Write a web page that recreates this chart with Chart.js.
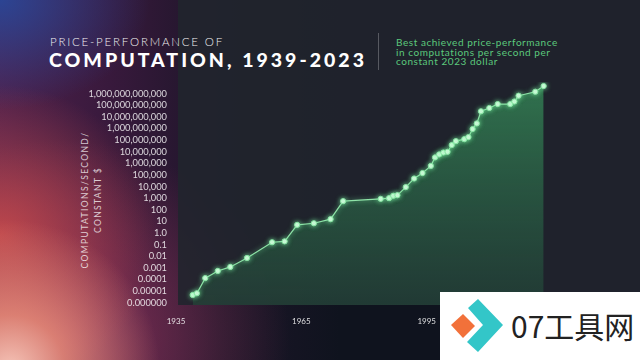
<!DOCTYPE html>
<html>
<head>
<meta charset="utf-8">
<script src="https://cdn.jsdelivr.net/npm/chart.js@4"></script>
<style>
  html, body { margin: 0; padding: 0; }
  body {
    width: 640px; height: 360px; overflow: hidden; position: relative;
    font-family: Lato, "Open Sans", sans-serif;
    background:
      radial-gradient(circle at 10px 370px, rgba(252,205,190,0.95) 0, rgba(240,150,125,0.75) 55px, rgba(210,90,100,0) 150px),
      radial-gradient(ellipse 160px 150px at 0px 235px, rgba(205,76,74,0.85), rgba(190,60,70,0)),
      radial-gradient(ellipse 150px 110px at 0px 0px, rgba(40,72,155,0.9), rgba(60,50,130,0)),
      radial-gradient(ellipse 230px 200px at 60px 340px, rgba(170,60,100,0.7), rgba(120,40,80,0)),
      linear-gradient(90deg, #4e214c 0, #38193c 110px, #1d1629 220px, #0f131e 340px);
  }
  #panel {
    position: absolute; left: 178px; top: 0; width: 462px; height: 305px;
    background: rgba(33,37,45,0.9);
  }
  #wrap { position: absolute; left: 0; top: 0; width: 640px; height: 360px; }
  .t1 {
    position: absolute; left: 50px; top: 35.5px; color: #f2f2f2;
    font-size: 11.5px; line-height: 11px; font-weight: 300; letter-spacing: 1.8px;
  }
  .t2 {
    position: absolute; left: 49px; top: 50px; color: #ffffff;
    font-size: 19.5px; line-height: 19px; font-weight: 900; letter-spacing: 3px;
  }
  .sep {
    position: absolute; left: 378px; top: 33px; width: 1px; height: 37px;
    background: rgba(255,255,255,0.25);
  }
  .cap {
    position: absolute; left: 396px; top: 38px; color: #5cc97c;
    font-size: 10px; line-height: 9.6px; letter-spacing: 0.55px;
  }
  .ytitle {
    position: absolute; left: -8.5px; top: 187px; width: 200px; height: 26px;
    text-align: center; color: rgba(255,255,255,0.75);
    font-size: 8.5px; line-height: 13px; letter-spacing: 1.4px;
    transform: rotate(-90deg); transform-origin: 50% 50%;
  }
  .wm {
    position: absolute; left: 440px; top: 292px; width: 200px; height: 68px;
    background: #ffffff;
  }
  .wm svg { position: absolute; left: 0; top: 0; }
  .wm span {
    position: absolute; left: 71px; top: 16px; color: #222;
    font-family: "Noto Sans CJK SC", sans-serif; font-size: 30px; line-height: 34px;
  }
</style>
</head>
<body>
<div id="panel"></div>
<div class="t1">PRICE-PERFORMANCE OF</div>
<div class="t2">COMPUTATION, 1939-2023</div>
<div class="sep"></div>
<div class="cap">Best achieved price-performance<br>in computations per second per<br>constant 2023 dollar</div>
<div class="ytitle">COMPUTATIONS/SECOND/<br>CONSTANT $</div>
<div id="wrap"><canvas id="chart" width="640" height="360"></canvas></div>
<div class="wm">
  <svg width="200" height="68" viewBox="0 0 200 68">
    <polygon points="11,33 23,22 35,34 23,46" fill="#f2713a"/>
    <polygon points="28,16 38,7 63,33 38,60 27,50 43,33" fill="#33c6c8"/>
  </svg>
  <span>07工具网</span>
</div>
<script>
// computations per second per constant 2023 dollar
const years = [1939, 1940, 1942, 1945, 1948, 1952, 1958, 1961, 1964, 1968, 1972, 1975,
  1984, 1986, 1987, 1988, 1990, 1992, 1994, 1996, 1997, 1998, 1999, 2000,
  2001, 2002, 2004, 2005, 2006, 2007, 2008, 2010, 2012, 2015, 2016, 2017, 2021, 2023];
const perf = [4.6e-6, 6.5e-6, 1.3e-4, 5.4e-4, 1.2e-3, 7.1e-3, 0.16, 0.19, 5.0, 6.9, 15.5, 550,
  870, 1000, 1600, 1800, 8900, 49000, 145000, 600000, 3.2e6, 5.8e6, 8.5e6, 9.8e6,
  3.7e7, 8.1e7, 1.2e8, 1.8e8, 8.9e8, 2.7e9, 3.0e10, 5.8e10, 1.26e11, 1.26e11, 2.1e11, 6.6e11, 1.45e12, 4.5e12];

const yTickLabels = ['0.000000', '0.00001', '0.0001', '0.001', '0.01', '0.1', '1.0', '10', '100',
  '1,000', '10,000', '100,000', '1,000,000', '10,000,000', '100,000,000', '1,000,000,000',
  '10,000,000,000', '100,000,000,000', '1,000,000,000,000'];
const yTickExp = [-6, -5, -4, -3, -2, -1, 0, 1, 2, 3, 4, 5, 6, 7, 8, 9, 10, 11, 12];
const xTicks = [1935, 1965, 1995, 2025];

const glow = {
  id: 'glow',
  beforeDatasetDraw(chart) {
    const ctx = chart.ctx;
    ctx.save();
    ctx.shadowColor = 'rgba(130,255,170,0.7)';
    ctx.shadowBlur = 5;
  },
  afterDatasetDraw(chart) { chart.ctx.restore(); }
};

new Chart(document.getElementById('chart'), {
  type: 'line',
  data: {
    datasets: [{
      data: years.map((y, i) => ({ x: y, y: perf[i] })),
      borderColor: '#8fe3a8',
      borderWidth: 1.2,
      pointRadius: 2.6,
      pointBackgroundColor: '#d2f8dc',
      pointBorderColor: '#86e3a2',
      pointBorderWidth: 1,
      fill: 'start',
      backgroundColor(ctx) {
        const area = ctx.chart.chartArea;
        if (!area) return 'rgba(50,130,80,0.5)';
        const g = ctx.chart.ctx.createLinearGradient(0, area.top, 0, area.bottom);
        g.addColorStop(0, 'rgba(60,165,100,0.62)');
        g.addColorStop(1, 'rgba(40,110,72,0.32)');
        return g;
      },
      tension: 0,
    }],
  },
  options: {
    responsive: false,
    animation: false,
    layout: { padding: { top: 82, right: 88, left: 0, bottom: 0 } },
    plugins: { legend: { display: false }, tooltip: { enabled: false } },
    scales: {
      x: {
        type: 'linear',
        min: 1935,
        max: 2025,
        border: { display: false },
        grid: { display: false, drawTicks: false },
        afterBuildTicks(scale) { scale.ticks = xTicks.map((v) => ({ value: v })); },
        afterFit(scale) { scale.height = 55; },
        ticks: {
          color: 'rgba(255,255,255,0.85)',
          font: { family: 'Lato', size: 8 },
          padding: 12,
          maxRotation: 0,
          callback: (v) => String(v),
        },
      },
      y: {
        type: 'logarithmic',
        min: Math.pow(10, -6.2),
        max: 1e13,
        border: { display: false },
        grid: { display: false, drawTicks: false },
        afterBuildTicks(scale) { scale.ticks = yTickExp.map((e) => ({ value: Math.pow(10, e) })); },
        afterFit(scale) { scale.width = 176; },
        ticks: {
          color: 'rgba(255,255,255,0.82)',
          font: { family: 'Lato', size: 9.3 },
          padding: 9,
          autoSkip: false,
          callback(v) {
            const i = yTickExp.indexOf(Math.round(Math.log10(v)));
            return i >= 0 ? yTickLabels[i] : '';
          },
        },
      },
    },
  },
  plugins: [glow],
});
</script>
</body>
</html>
